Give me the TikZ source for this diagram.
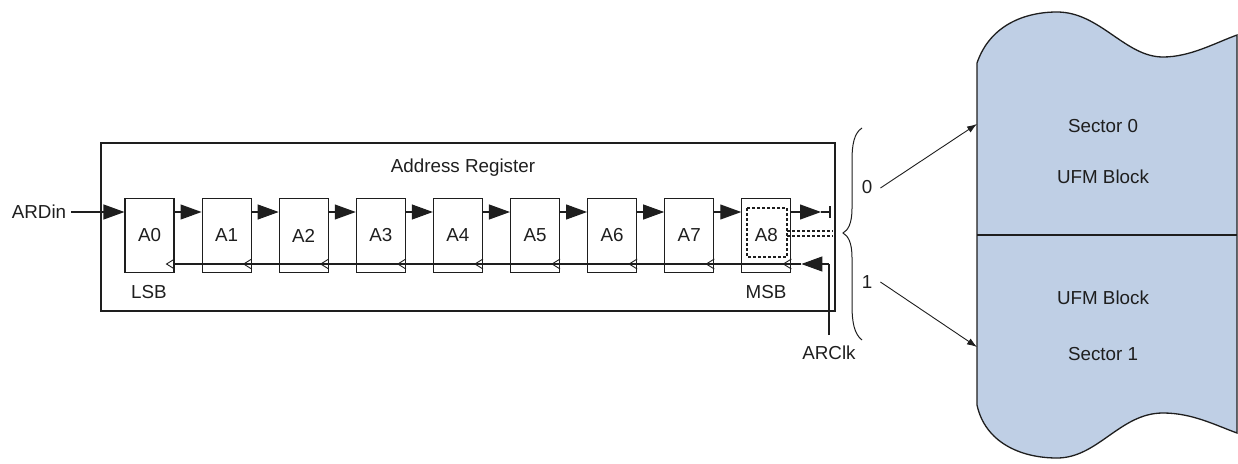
\documentclass[tikz,border=0pt]{standalone}
\usepackage{fontspec}
\setmainfont{Liberation Sans}
\usetikzlibrary{arrows.meta,calc}
\definecolor{ufm}{RGB}{191,207,229}
\definecolor{ink}{RGB}{30,30,30}
\begin{document}
\begin{tikzpicture}[x=1pt,y=-1pt,font=\fontsize{18.8}{22}\selectfont,
  reg/.style={draw=ink,line width=1.1pt,minimum width=49pt,minimum height=74pt,inner sep=0pt,text=ink},
  fa/.style={draw=ink,line width=1.1pt,-{Triangle[length=21pt,width=15pt]}},
  sa/.style={draw=ink,line width=0.9pt,-{Latex[length=10pt,width=7pt]}},
  wire/.style={draw=ink,line width=1.1pt},
  lbl/.style={inner sep=0pt,text=ink},
  dots/.style={draw=ink,line width=2.8pt,dash pattern=on 2.8pt off 2.2pt}]
\useasboundingbox (0,0) rectangle (1238,463);

% outer register box
\node[draw=ink,line width=1.3pt,minimum width=734pt,minimum height=168pt,inner sep=0pt] (reg) at (468,227) {};
\node[lbl] (title) at (463,168) {Address Register};

% cells
\foreach \i in {0,...,8}
  \node[reg] (A\i) at ({149.5+77.1*\i},235.5) {A\i};
\node[lbl] (lsb) at (149,292) {LSB};
\node[lbl] (msb) at (766,292) {MSB};

% data chain
\coordinate (ay) at (0,212);
\node[lbl,inner xsep=5pt] (ardin) at (39,212) {ARDin};
\draw[fa] (ardin.east) -- (A0.west |- ay);
\foreach \i [evaluate=\i as \j using int(\i+1)] in {0,...,7}
  \draw[fa] (A\i.east |- ay) -- (A\j.west |- ay);
\coordinate (bar) at (830,212);
\draw[fa] (A8.east |- ay) -- ($(bar)+(-9,0)$);
\draw[wire] ($(bar)+(-9,0)$) -- (bar);
\draw[wire] ($(bar)+(0,-6)$) -- ($(bar)+(0,6)$);

% dotted output
\draw[dots] (747,208) rectangle (787,257);
\coordinate (d1) at (833,231);
\coordinate (d2) at (833,236);
\draw[dots] (787,231) -- (d1);
\draw[dots] (787,236) -- (d2);

% clock
\coordinate (ck) at (829,264);
\coordinate (ckb) at (829,335);
\node[lbl] (arclk) at (829,353) {ARClk};
\draw[wire] (ckb) -- (ck);
\draw[fa] (ck) -- ($(A8.east |- ck)+(10,0)$);
\draw[wire] ($(A8.east |- ck)+(10,0)$) -- (A0.east |- ck);
\foreach \i in {0,...,8}
  \draw[draw=ink,line width=0.9pt] ($(A\i.east |- ck)+(0,-5)$) -- ++(-8,5) -- ++(8,5);

% brace
\draw[draw=ink,line width=1pt] (862,128) .. controls (854,133) and (852,145) .. (852,160)
  -- (852,208) .. controls (852,224) and (848,230) .. (843,233)
  .. controls (848,236) and (852,242) .. (852,258)
  -- (852,306) .. controls (852,321) and (854,334) .. (862,340);
\node[lbl] (lab0) at (867,187) {0};
\node[lbl] (lab1) at (867,282) {1};

% UFM block
\draw[draw=ink,line width=1.3pt,fill=ufm]
  (977,63) .. controls (990,25) and (1025,12) .. (1057,12)
  .. controls (1100,12) and (1125,57) .. (1163,57)
  .. controls (1190,57) and (1215,43) .. (1237,35)
  -- (1237,433)
  .. controls (1215,425) and (1192,413) .. (1163,413)
  .. controls (1120,413) and (1098,458) .. (1057,458)
  .. controls (1020,458) and (985,442) .. (977,405) -- cycle;
\coordinate (divl) at (977,235);
\coordinate (divr) at (1237,235);
\draw[draw=ink,line width=1.1pt] (divl) -- (divr);
\coordinate (s0) at (977,124);
\coordinate (s1) at (977,347);
\node[lbl] (sec0) at (1103,126) {Sector 0};
\node[lbl] (ufm0) at (1103,177) {UFM Block};
\node[lbl] (ufm1) at (1103,298) {UFM Block};
\node[lbl] (sec1) at (1103,354) {Sector 1};

\draw[sa] ($(lab0.east)+(8,1)$) -- (s0);
\draw[sa] ($(lab1.east)+(8,0)$) -- (s1);
\end{tikzpicture}
\end{document}
